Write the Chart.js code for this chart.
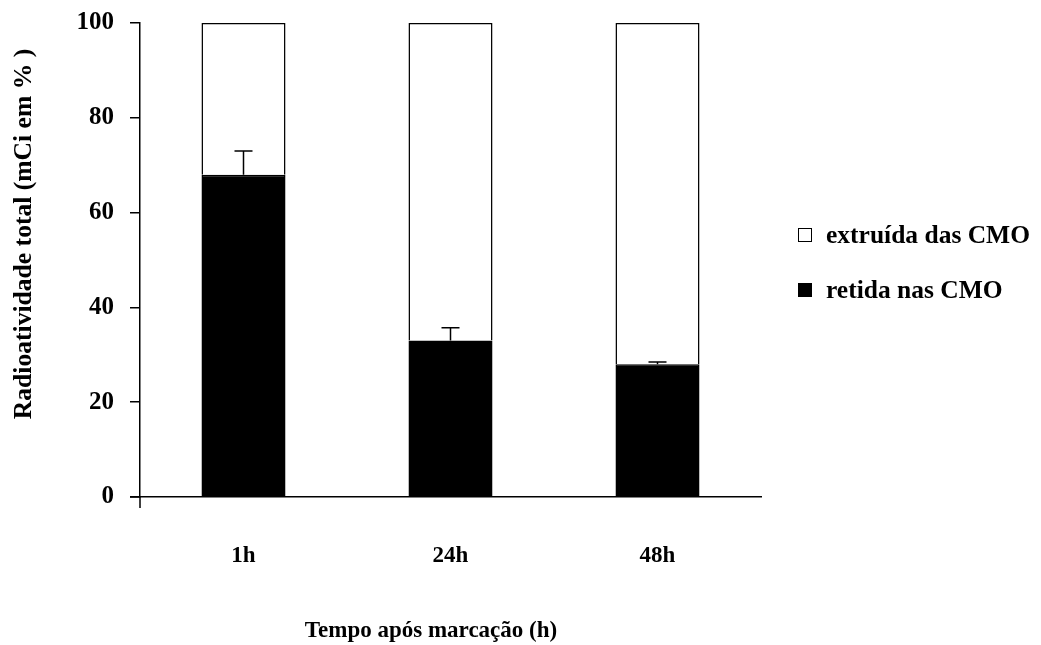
<!DOCTYPE html>
<html>
<head>
<meta charset="utf-8">
<script src="https://cdn.jsdelivr.net/npm/chart.js@4"></script>
<style>
  html, body { margin: 0; padding: 0; background: #fff; }
  #c { display: block; }
</style>
</head>
<body>
<canvas id="c" width="1041" height="645"></canvas>
<script>
// Time points after labelling
const categories = ['1h', '24h', '48h'];
// Radioactivity retained in the cells (% of total)
const retidaValues = [68, 33, 28];
// Upper end of the error bar for the retained fraction
const retidaErrorTop = [73, 35.7, 28.5];
// Radioactivity released by the cells (% of total)
const extruidaValues = retidaValues.map(v => 100 - v);
// Y axis tick values
const yTicks = [0, 20, 40, 60, 80, 100];

const legendLabels = ['extruída das CMO', 'retida nas CMO'];
const xTitle = 'Tempo após marcação (h)';
const yTitle = 'Radioatividade total (mCi em % )';

const SERIF = '"Liberation Serif", "Times New Roman", serif';

// Error bars (upper whisker only) on the retained series
const errorBars = {
  id: 'errorBars',
  afterDatasetsDraw(chart) {
    const ctx = chart.ctx;
    const meta = chart.getDatasetMeta(0);
    const y = chart.scales.y;
    ctx.save();
    ctx.strokeStyle = '#000';
    ctx.lineWidth = 1.5;
    meta.data.forEach((bar, i) => {
      const x = bar.x;
      const yb = y.getPixelForValue(retidaValues[i]);
      const yt = y.getPixelForValue(retidaErrorTop[i]);
      ctx.beginPath();
      ctx.moveTo(x, yb);
      ctx.lineTo(x, yt);
      ctx.moveTo(x - 9, yt);
      ctx.lineTo(x + 9, yt);
      ctx.stroke();
    });
    ctx.restore();
  }
};

// Axis crossing stubs, titles and the legend at the right
const decorations = {
  id: 'decorations',
  afterDraw(chart) {
    const ctx = chart.ctx;
    const a = chart.chartArea;
    ctx.save();
    ctx.strokeStyle = '#000';
    ctx.lineWidth = 1.5;
    ctx.beginPath();
    ctx.moveTo(a.left, a.bottom);
    ctx.lineTo(a.left, a.bottom + 11);
    ctx.moveTo(a.left - 10, a.bottom);
    ctx.lineTo(a.left, a.bottom);
    ctx.stroke();

    ctx.fillStyle = '#000';
    ctx.textAlign = 'center';
    ctx.textBaseline = 'middle';
    ctx.font = 'bold 23px ' + SERIF;
    ctx.fillText(xTitle, 431, 631);

    ctx.save();
    ctx.translate(24, 234);
    ctx.rotate(-Math.PI / 2);
    ctx.font = 'bold 25.6px ' + SERIF;
    ctx.fillText(yTitle, 0, 0);
    ctx.restore();

    // legend
    const items = [
      { fill: '#fff', y: 235 },
      { fill: '#000', y: 290 }
    ];
    ctx.textAlign = 'left';
    ctx.font = 'bold 25.5px ' + SERIF;
    items.forEach((it, i) => {
      ctx.fillStyle = it.fill;
      ctx.fillRect(798, it.y - 7, 14, 14);
      ctx.lineWidth = 1;
      ctx.strokeStyle = '#000';
      ctx.strokeRect(798.5, it.y - 6.5, 13, 13);
      ctx.fillStyle = '#000';
      ctx.fillText(legendLabels[i], 826, it.y + 1);
    });
    ctx.restore();
  }
};

new Chart(document.getElementById('c'), {
  type: 'bar',
  data: {
    labels: categories,
    datasets: [
      {
        label: legendLabels[1],
        data: retidaValues,
        backgroundColor: '#000',
        borderColor: '#000',
        borderWidth: 1.5,
        borderSkipped: 'bottom'
      },
      {
        label: legendLabels[0],
        data: extruidaValues,
        backgroundColor: '#fff',
        borderColor: '#000',
        borderWidth: 1.5,
        borderSkipped: 'bottom'
      }
    ]
  },
  options: {
    responsive: false,
    animation: false,
    devicePixelRatio: 1,
    layout: { padding: { left: 0, top: 23, right: 280, bottom: 0 } },
    plugins: {
      legend: { display: false },
      tooltip: { enabled: false }
    },
    datasets: {
      bar: { categoryPercentage: 1, barPercentage: 0.406 }
    },
    scales: {
      x: {
        stacked: true,
        afterFit(s) { s.height = 148; s.paddingLeft = 0; s.paddingRight = 0; },
        grid: { display: false },
        border: { display: true, color: '#000', width: 1.5 },
        ticks: {
          color: '#000',
          padding: 37,
          font: { family: SERIF, size: 23, weight: 'bold' }
        }
      },
      y: {
        stacked: true,
        min: 0,
        max: 100,
        afterFit(s) { s.width = 140; s.paddingTop = 0; s.paddingBottom = 0; },
        afterBuildTicks(s) { s.ticks = yTicks.map(v => ({ value: v })); },
        grid: {
          drawOnChartArea: false,
          drawTicks: true,
          tickLength: 10,
          color: '#000',
          lineWidth: 1.5
        },
        border: { display: true, color: '#000', width: 1.5 },
        ticks: {
          color: '#000',
          padding: 16,
          font: { family: SERIF, size: 25, weight: 'bold' }
        }
      }
    }
  },
  plugins: [errorBars, decorations]
});
</script>
</body>
</html>
